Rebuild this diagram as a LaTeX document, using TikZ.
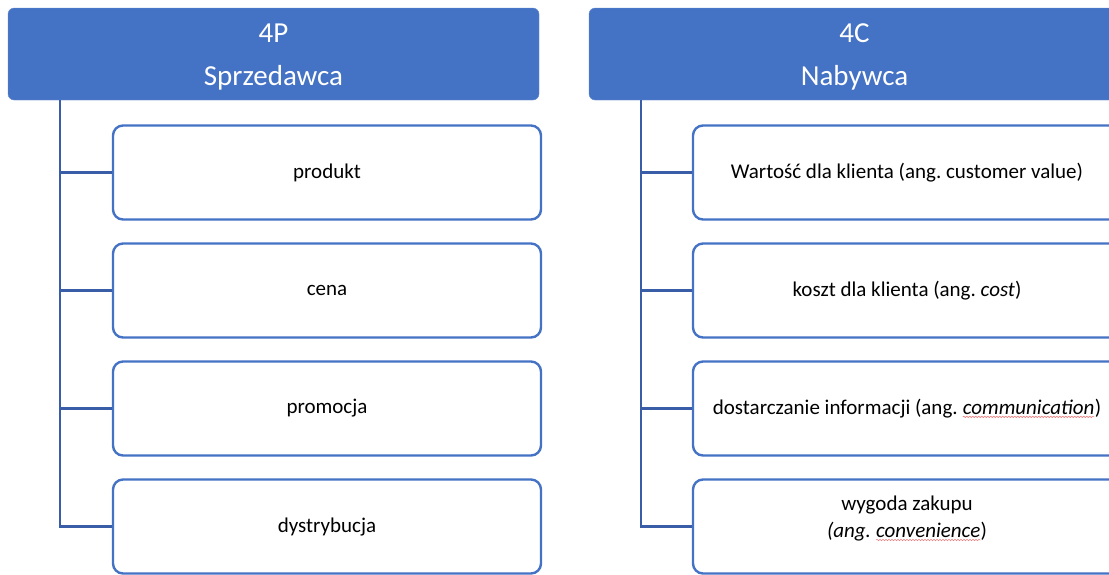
\documentclass[tikz,border=0pt]{standalone}
\usepackage{fontspec}
\setmainfont{Carlito}
\usetikzlibrary{positioning,decorations.pathmorphing}
\definecolor{headblue}{HTML}{4472C4}
\definecolor{lineblue}{HTML}{3A5DA8}
\definecolor{spellred}{HTML}{F08080}
\tikzset{
  head/.style={rectangle, rounded corners=6pt, fill=headblue, draw=headblue!80!white,
    text=white, minimum width=531pt, minimum height=92pt, align=center,
    font=\fontsize{29}{43}\selectfont},
  item/.style={rectangle, rounded corners=10pt, draw=headblue, line width=2.4pt,
    fill=white, minimum width=428pt, minimum height=94pt, align=center,
    font=\fontsize{21}{27}\selectfont},
  itemtext/.style={align=center, font=\fontsize{21}{27}\selectfont},
  tree/.style={draw=lineblue, line width=2.6pt},
  spellword/.style={rectangle, draw=none, fill=none, inner sep=0pt, outer sep=0pt,
    minimum width=0pt, minimum height=0pt, rounded corners=0pt, anchor=base},
  spellline/.style={draw=spellred, line width=0.6pt, rounded corners=0pt, decorate,
    decoration={snake, amplitude=0.7pt, segment length=3pt}}
}
\newcommand{\spellwave}[1]{\tikz[baseline=0pt]{\node[spellword] (sw) at (0,0) {#1};
  \draw[spellline] ([yshift=-2.5pt]sw.base west) -- ([yshift=-2.5pt]sw.base east);}}
\newcommand{\headstrut}{\rule{0pt}{25.5pt}}
\begin{document}
\frenchspacing
\begin{tikzpicture}[x=1pt, y=-1pt, node distance=21.6pt]
\useasboundingbox (0,0) rectangle (1109,574);
\clip (0,0) rectangle (1109,574);
% Headers
\node[head] (hP) at (273.5,54) {\headstrut 4P\\Sprzedawca};
\node[head] (hC) at (854.5,54) {\headstrut 4C\\Nabywca};

% 4P boxes
\node[item] (p1) at (327,172.5) {produkt};
\node[item, below=of p1] (p2) {cena};
\node[item, below=of p2] (p3) {promocja};
\node[item, below=of p3] (p4) {dystrybucja};

% 4C boxes
\node[item] (c1) at (907,172.5) {Wartość dla klienta (ang. customer value)};
\node[item, below=of c1] (c2) {koszt dla klienta (ang. \textit{cost})};
\node[item, below=of c2] (c3) {dostarczanie informacji (ang. \spellwave{\textit{communication}})};
\node[item, below=of c3] (c4) {};
\node[itemtext] (c4t) at ([yshift=8pt]c4.center) {wygoda zakupu\\\textit{(ang. \spellwave{\textit{convenience}}})};

% Connections
\foreach \i in {1,...,4}
  \draw[tree] ([xshift=52pt]hP.south west) |- (p\i.west);
\foreach \i in {1,...,4}
  \draw[tree] ([xshift=52pt]hC.south west) |- (c\i.west);
\end{tikzpicture}
\end{document}
